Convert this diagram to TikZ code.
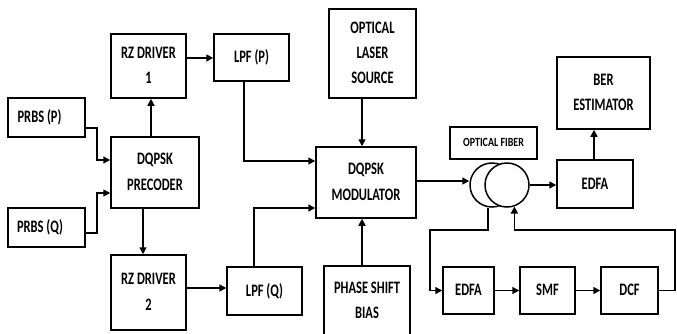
\documentclass[tikz,border=0pt]{standalone}
\usepackage{fontspec}
\setmainfont{Carlito}
\usepackage{graphicx}
\usetikzlibrary{arrows.meta,calc}
\newcommand\lbl[2][1.4]{\scalebox{1}[#1]{\begin{tabular}{@{}c@{}}#2\end{tabular}}}
\begin{document}
\begin{tikzpicture}[x=1pt,y=-1pt,
  box/.style={draw, line width=1.5pt, inner sep=0pt, align=center,
    font=\fontsize{12.5}{18}\selectfont\bfseries},
  arr/.style={line width=1.5pt, -{Triangle[length=7pt,width=7pt]}},
  ring/.style={circle, draw, line width=1.5pt, minimum size=44pt, inner sep=0pt}]
\useasboundingbox (0,0) rectangle (677,333);

% left column
\node[box, minimum width=77pt, minimum height=39pt] (prbsp) at (46.5,117.5) {\lbl{PRBS (P)}\hspace{14pt}};
\node[box, minimum width=77pt, minimum height=39pt] (prbsq) at (46.5,227.5) {\lbl{PRBS (Q)}\hspace{13pt}};
\node[box, minimum width=88pt, minimum height=71pt] (pre) at (155,172.5) {\lbl{DQPSK\\PRECODER}};
\node[box, minimum width=75pt, minimum height=64pt] (rz1) at (148.5,66) {\lbl{RZ DRIVER\\1}};
\node[box, minimum width=75pt, minimum height=75pt] (rz2) at (148.5,292.5) {\lbl{RZ DRIVER\\2}};
\node[box, minimum width=75pt, minimum height=47pt] (lpfp) at (251.5,57.5) {\lbl{LPF (P)}};
\node[box, minimum width=75pt, minimum height=48pt] (lpfq) at (264.5,291) {\lbl{LPF (Q)}};

% modulator column
\node[box, minimum width=87pt, minimum height=89pt] (laser) at (372.5,53.5) {\lbl{OPTICAL\\LASER\\SOURCE}};
\node[box, minimum width=100pt, minimum height=71pt] (mod) at (366,182.5) {\lbl{DQPSK\\MODULATOR}};
\node[box, minimum width=86pt, minimum height=70pt] (bias) at (367,301) {\lbl{PHASE SHIFT\\BIAS}};

% fiber
\node[box, minimum width=87pt, minimum height=32pt, font=\fontsize{10}{14}\selectfont\bfseries] (fib) at (493.5,143) {\lbl[1.25]{OPTICAL FIBER}};
\node[ring] (lc) at (492,185) {};
\node[ring, fill=white] (rc) at (507,185) {};

% right side
\node[box, minimum width=76pt, minimum height=48pt] (edfa1) at (595,184) {\lbl{EDFA}};
\node[box, minimum width=93pt, minimum height=72pt] (ber) at (603.5,93) {\lbl{BER\\ESTIMATOR}};
\node[box, minimum width=51pt, minimum height=47pt] (edfa2) at (468.5,290.5) {\lbl{EDFA}};
\node[box, minimum width=55pt, minimum height=47pt] (smf) at (547.5,290.5) {\lbl{SMF}};
\node[box, minimum width=57pt, minimum height=47pt] (dcf) at (629.5,290.5) {\lbl{DCF}};

\coordinate (c1) at (430,230);
\coordinate (c2) at (675,230);

% connectors
\draw[arr] ([yshift=-10.5pt]prbsp.east) -- ++(11,0) |- ([yshift=12.5pt]pre.west);
\draw[arr] ([yshift=-5.5pt]prbsq.east) -- ++(11,0) |- ([yshift=-20.5pt]pre.west);
\draw[arr] ([xshift=-4pt]pre.north) -- ([xshift=-4pt]pre.north |- rz1.south);
\draw[arr] ([xshift=-12pt]pre.south) -- ([xshift=-12pt]pre.south |- rz2.north);
\draw[arr] ([yshift=8pt]rz1.east) -- ([yshift=8pt]rz1.east -| lpfp.west);
\draw[arr] ([yshift=4.5pt]rz2.east) -- ([yshift=4.5pt]rz2.east -| lpfq.west);
\draw[arr] ([xshift=-7.5pt]lpfp.south) |- ([yshift=21.5pt]mod.west);
\draw[arr] ([xshift=-10.5pt]lpfq.north) |- ([yshift=-25.5pt]mod.west);
\draw[arr] ([xshift=-10.5pt]laser.south) -- ([xshift=-10.5pt]laser.south |- mod.north);
\draw[arr] ([xshift=-5pt]bias.north) -- ([xshift=-5pt]bias.north |- mod.south);
\draw[arr] ([yshift=1.5pt]mod.east) -- ([yshift=1.5pt]mod.east -| lc.west);
\draw[arr] (rc.east) -- (rc.east -| edfa1.west);
\draw[arr] ([xshift=-1pt]edfa1.north) -- ([xshift=-1pt]edfa1.north |- ber.south);
\draw[arr] ([xshift=-4pt]lc.south) |- (c1) |- (edfa2.west);
\draw[arr] (edfa2.east) -- (smf.west);
\draw[arr] (smf.east) -- (dcf.west);
\draw[arr] (dcf.east) -| (c2) -| (rc.-71);
\end{tikzpicture}
\end{document}
